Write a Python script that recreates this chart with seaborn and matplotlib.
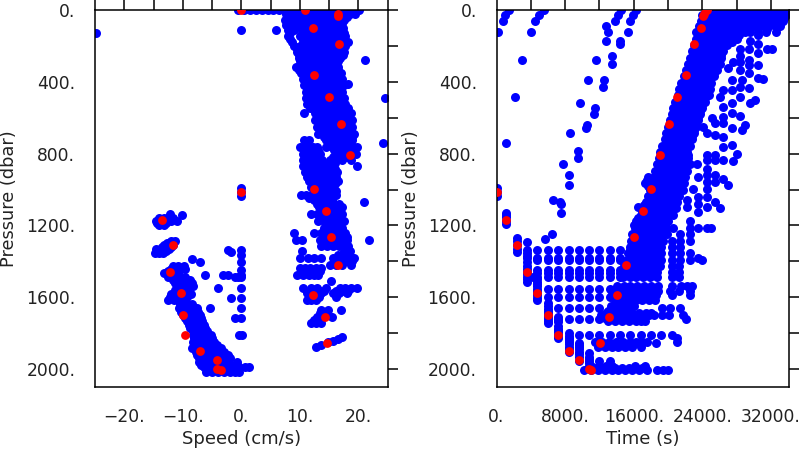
import pandas as pd
import matplotlib
matplotlib.use("Agg")
import matplotlib.pyplot as plt
import seaborn as sns

# ---------- DATA: LEFT PANEL (pressure level -> speeds) ----------
speed_rows = {
    0: [-0.5, 0.5, 1.5, 2.5, 3.5, 4.5, 5.5, 6.5, 7.5, 8.5, 9.5, 10.5, 11.5, 12.5, 13.5, 14.5, 15.5, 16.5, 17.5, 18.5, 19.5, 20.2],
    25: [7.7, 8.7, 9.7, 10.7, 11.7, 12.7, 13.7, 14.7, 15.7, 16.7, 17.7, 18.6, 19.4],
    55: [7.5, 8.5, 9.5, 10.5, 11.5, 12.5, 13.5, 14.5, 15.5, 16.5, 17.5],
    85: [7.7, 8.7, 9.7, 10.7, 11.7, 12.7, 13.7, 14.7, 15.7, 17.0],
    112: [5.9, 8.0, 9.0, 10.9, 11.8, 12.8, 13.8, 14.8, 15.8, 16.5],
    145: [8.0, 10.0, 11.0, 12.0, 13.0, 14.0, 15.0, 16.0, 17.0, 17.8],
    180: [8.7, 10.5, 11.4, 12.0, 13.3, 14.3, 15.7, 16.6, 17.4, 18.2],
    215: [9.5, 10.4, 11.3, 12.3, 13.3, 14.0, 15.3, 16.3, 17.3],
    250: [9.8, 10.7, 11.6, 12.6, 13.6, 14.6, 15.5, 16.5, 17.4],
    285: [10.0, 11.0, 12.0, 13.0, 14.0, 15.0, 16.0, 16.5],
    315: [9.3, 10.3, 11.3, 12.3, 13.3, 14.3, 15.3, 16.6],
    350: [10.2, 11.2, 12.2, 13.2, 14.2, 15.2, 16.2, 17.0],
    385: [10.5, 11.5, 12.5, 13.5, 14.5, 15.5, 16.5, 17.3],
    420: [10.8, 11.8, 12.8, 13.8, 14.8, 15.8, 16.8, 17.5],
    455: [11.0, 12.0, 13.0, 14.0, 15.0, 16.0, 17.3],
    490: [11.0, 11.9, 13.2, 14.2, 15.2, 16.2, 17.5],
    525: [11.3, 11.9, 13.0, 14.0, 15.0, 16.0, 17.0, 17.7],
    575: [10.8, 12.6, 13.4, 14.4, 15.4, 16.4, 17.4, 18.8],
    615: [12.6, 13.6, 14.6, 15.6, 16.6, 17.6, 18.4, 19.0],
    650: [13.0, 14.0, 15.0, 16.0, 17.0, 18.0, 19.0],
    690: [13.2, 14.2, 15.2, 16.2, 17.2, 18.2, 19.2],
    725: [10.8, 11.6, 14.5, 15.5, 16.5, 17.5, 18.9],
    765: [10.0, 10.8, 11.6, 12.3, 12.9, 14.5, 15.5, 16.5, 17.5, 18.5, 19.8],
    800: [10.6, 11.5, 12.5, 13.5, 16.5, 17.5, 18.5, 19.7],
    835: [10.6, 11.6, 12.6, 13.8, 15.2, 16.2, 17.2, 18.7],
    870: [10.6, 11.6, 12.6, 13.6, 14.6, 15.5, 19.8],
    905: [10.9, 11.9, 12.9, 13.9, 14.9, 15.9, 16.3],
    950: [11.6, 12.6, 13.6, 14.6, 15.6, 16.6],
    985: [11.9, 12.9, 13.9, 14.9, 15.5],
    1030: [10.2, 11.0, 12.0, 13.0, 14.0, 15.0, 16.2],
    1060: [12.4, 13.4, 14.4, 15.5],
    1070: [21.0],
    1100: [13.3, 14.3, 15.3, 16.3, 17.2],
    1135: [12.0, 13.0, 14.0, 15.0, 16.0, 17.2],
    1175: [13.2, 14.2, 15.2, 16.2, 17.5],
    1215: [14.2, 15.2, 16.2, 17.2],
    1243: [9.1, 12.5, 13.7, 14.7, 15.7, 16.7, 17.8],
    1280: [9.4, 10.3, 13.4, 14.4, 15.4, 16.4, 17.4, 18.1, 21.8],
    1317: [13.7, 14.7, 15.7, 16.7, 17.7, 18.2],
    1345: [10.3, 17.5, 18.6],
    1382: [10.0, 11.4, 12.5, 13.7, 15.7, 16.7, 17.7, 18.7, 19.2],
    1420: [15.2, 16.2, 17.2, 18.7],
    1438: [10.0, 10.9, 11.8, 12.7, 13.7],
    1475: [9.6, 10.6, 11.6, 12.4, 13.1],
    1507: [15.4],
    1550: [10.5, 12.0, 13.0, 14.5, 16.8, 17.8, 18.8, 19.8],
    1578: [11.2, 12.0, 13.0, 13.7, 15.7, 16.7, 18.0],
    1615: [11.3, 12.0, 12.8],
    1671: [13.7, 14.8, 17.0],
    1708: [13.0, 14.0, 15.5],
    1745: [11.9, 12.7, 13.6],
    1875: [12.8],
    1866: [13.7],
    1851: [14.8],
    1844: [15.7],
    1833: [16.5],
    1823: [17.3],
    # lower left arm
    1136: [-12.2],
    1143: [-10.1],
    1173: [-14.5, -13.7, -12.9, -12.0, -11.0],
    1197: [-14.0, -13.2],
    1285: [-12.0, -11.3],
    1310: [-13.2, -12.4, -11.6],
    1330: [-14.5, -13.7, -13.0, -12.3],
    1355: [-14.8, -14.0, -13.4],
    1388: [-8.5],
    1401: [-7.1, 0.0],
    1428: [-11.7, -10.8, -9.8],
    1443: [-12.0, -11.2, -10.4, -9.6],
    1465: [-13.2, -12.4, -11.6, -10.8],
    1478: [-6.2, -2.3, 0.0, -3.2],
    1505: [-11.7, -10.8, -9.8, -8.8],
    1535: [-11.0, -10.0, -9.0, -8.2],
    1580: [-12.0, -11.0, -10.0, -8.6],
    1615.5: [-12.5, -11.5, -10.5, -9.6],
    1660: [-10.6, -9.6, -8.6, -7.5, -5.3],
    1698: [-10.0, -9.0, -8.0, -7.0],
    1735: [-9.2, -8.4, -7.5, -6.7],
    1772: [-8.7, -7.8, -7.0, -6.2],
    1810: [-8.2, -7.2, -6.2, -5.2],
    1847: [-8.2, -7.2, -6.2, -5.4, -4.6],
    1885: [-8.4, -7.4, -6.4, -5.4, -4.4, -3.4],
    1922: [-7.6, -6.6, -5.6, -4.6, -3.6, -2.3],
    1960: [-7.3, -6.3, -5.3, -4.3, -3.3, -2.3, -0.8],
    1990: [-6.4, -5.4, -4.4, -3.4, -2.4, -1.4, -0.4, 0.6, 1.4],
    2015: [-6.0, -5.0, -4.0, -3.0, -2.0, -1.0, -0.3],
    # column near zero speed
    114: [0.0],
    128: [-24.8],
    278: [21.2],
    412: [18.2],
    492: [24.6],
    740: [24.3],
    990: [0.0],
    1013: [0.0],
    1035: [0.0],
    1336: [-2.3, 0.0],
    1349: [-1.7],
    1364: [0.0],
    1448: [0.0],
    1490: [-1.1, -0.5, 0.0],
    1550.5: [-4.0, 0.0],
    1606: [-1.7, 0.0],
    1661: [0.0],
    1717: [-1.1, 0.0],
    1812: [-0.3, 0.2],
}

# staggered points between the rows above, the blobs are solid in the picture
speed_fill = {
    12: [8.2, 9.2, 10.2, 11.2, 12.2, 13.2, 14.2, 15.2, 16.2, 17.2, 18.2],
    40: [8.2, 9.2, 10.2, 11.2, 12.2, 13.2, 14.2, 15.2, 16.2, 17.2, 18.0],
    70: [8.0, 9.0, 10.0, 11.0, 12.0, 13.0, 14.0, 15.0, 16.0, 17.2],
    100: [8.2, 10.2, 11.2, 12.2, 13.2, 14.2, 15.2, 16.2, 17.4],
    128: [8.3, 10.4, 11.4, 12.4, 13.4, 14.4, 15.4, 16.4, 17.6],
    162: [8.4, 10.5, 11.5, 12.5, 13.5, 14.5, 15.5, 16.5, 17.5],
    198: [9.1, 10.0, 11.0, 12.8, 13.8, 14.8, 15.8, 16.8, 17.7],
    232: [9.6, 10.6, 11.6, 12.6, 13.6, 14.6, 15.6, 16.6, 17.5],
    268: [9.9, 10.9, 11.9, 12.9, 13.9, 14.9, 15.9, 16.9],
    300: [10.5, 11.5, 12.5, 13.5, 14.5, 15.5, 16.2],
    332: [9.8, 10.8, 11.8, 12.8, 13.8, 14.8, 15.8, 16.6],
    368: [10.7, 11.7, 12.7, 13.7, 14.7, 15.7, 16.7],
    402: [11.0, 12.0, 13.0, 14.0, 15.0, 16.0, 17.0],
    438: [11.3, 12.3, 13.3, 14.3, 15.3, 16.3, 17.0],
    472: [11.5, 12.5, 13.5, 14.5, 15.5, 16.5],
    508: [11.6, 12.6, 13.6, 14.6, 15.6, 16.6, 17.3],
    548: [11.8, 12.8, 13.8, 14.8, 15.8, 16.8, 17.8, 18.3],
    595: [13.1, 14.1, 15.1, 16.1, 17.1, 18.1],
    632: [13.5, 14.5, 15.5, 16.5, 17.5, 18.5],
    670: [13.7, 14.7, 15.7, 16.7, 17.7, 18.7],
    708: [14.2, 15.2, 16.2, 17.2, 18.2, 19.0],
    745: [11.2, 14.8, 15.8, 16.8, 17.8, 18.8],
    782: [11.1, 12.1, 13.1, 15.9, 17.0, 18.0, 19.0],
    818: [11.1, 12.1, 13.1, 15.7, 16.7, 17.7, 18.2],
    852: [11.1, 12.1, 13.1, 14.2, 15.0, 16.0],
    888: [11.4, 12.4, 13.4, 14.4, 15.4, 16.0],
    928: [11.2, 12.2, 13.2, 14.2, 15.2, 16.2],
    968: [12.2, 13.2, 14.2, 15.2, 16.0],
    1008: [12.4, 13.4, 14.4, 15.2, 16.2],
    1045: [11.5, 12.5, 13.5, 14.5, 15.5],
    1082: [13.0, 13.9, 14.9, 15.9, 16.7],
    1118: [13.9, 14.9, 15.9, 16.9],
    1155: [13.5, 14.5, 15.5, 16.5],
    1195: [14.6, 15.6, 16.6],
    1230: [14.2, 15.2, 16.2, 17.2],
    1262: [14.0, 15.0, 16.0, 17.0, 18.0],
    1298: [14.2, 15.2, 16.2, 17.2, 18.0],
    1335: [17.9],
    1362: [16.5, 17.5, 18.5],
    1400: [16.0, 17.0, 18.0, 19.0],
    1455: [10.5, 11.5, 12.5, 13.4],
    1565: [11.5, 12.5, 13.5, 14.2, 16.2, 17.2, 18.2],
    1597: [11.6, 12.6, 13.3, 16.2],
    1690: [13.4, 14.4],
    1727: [12.4, 13.4],
    # lower left arm
    1160: [-14.0, -13.2, -12.5, -11.6],
    1185: [-14.4, -13.6, -12.8],
    1298: [-12.7, -12.0],
    1320: [-13.6, -12.8, -12.0],
    1343: [-14.4, -13.6, -12.9],
    1453: [-12.6, -11.6, -10.6],
    1485: [-12.5, -11.6, -10.4, -9.6],
    1520: [-11.3, -10.4, -9.4, -8.5],
    1558: [-11.3, -10.3, -9.3],
    1598: [-12.2, -11.2, -10.2, -9.2],
    1640: [-10.4, -9.4, -8.4],
    1680: [-10.3, -9.3, -8.3, -7.4],
    1716: [-9.6, -8.6, -7.6, -6.8],
    1753: [-9.0, -8.0, -7.0, -6.4],
    1790: [-8.2, -7.4, -6.6, -5.8],
    1828: [-8.0, -7.0, -6.0, -5.0],
    1866: [-8.0, -7.0, -6.0, -5.0, -4.2],
    1903: [-7.8, -6.8, -5.8, -4.8, -3.8, -2.9],
    1941: [-7.2, -6.2, -5.2, -4.2, -3.2, -2.0],
    1975: [-6.8, -5.8, -4.8, -3.8, -2.8, -1.8, -0.8],
    2003: [-5.5, -4.5, -3.5, -2.5, -1.5, -0.5],
}

# ---------- DATA: RIGHT PANEL (pressure level -> times) ----------
time_rows = {
    0: [24400, 25200, 26000, 26800, 27600, 28400, 29200, 30000, 30800, 31600, 32400, 33200, 33900, 1500, 5500, 14500, 16200],
    30: [24000, 24800, 25600, 26400, 27200, 28000, 28800, 29600, 30400, 31200, 32000, 32800, 33700, 1000, 5000, 14200, 15900],
    60: [23800, 24600, 25400, 26200, 27000, 27800, 28600, 29400, 30200, 31000, 31800, 32600, 33400, 700, 4500, 13800, 15500],
    90: [23600, 24400, 25200, 26000, 26800, 27600, 28400, 29200, 30000, 30800, 31600, 32400, 33000, 12800],
    120: [23300, 24100, 24900, 25700, 26500, 27300, 28100, 28900, 29500, 30500, 31400, 32600, 150, 4000, 13000, 15300],
    142: [30520],
    160: [23200, 24000, 24800, 25600, 26400, 27200, 28000],
    175: [29500, 12700, 14400],
    188: [30520, 14400],
    195: [23000, 23800, 24600, 25400, 26200, 26800],
    218: [28385, 31490, 32070, 29470],
    241: [30520],
    230: [22800, 23600, 24400, 25200, 26000, 26400],
    259: [28385, 13400],
    265: [22500, 23300, 24100, 24900, 25700, 26200],
    278: [29470, 11600, 3000],
    287: [28385, 27600],
    300: [22300, 23100, 23900, 24700, 25500, 26000, 13400],
    306: [29470, 30520],
    325: [27000],
    334: [28385],
    335: [22100, 22900, 23700, 24500, 25100, 25700],
    352: [29470],
    370: [21900, 22700, 23500, 24300, 24900, 25300],
    380: [30520],
    386: [31100],
    390: [27415, 28580, 10700, 12500],
    405: [21500, 22300, 23100, 23900, 24500, 25000],
    427: [28385, 12400],
    436: [29470],
    440: [21300, 22100, 22900, 23700, 24300, 24900],
    446: [26440, 27415],
    475: [21100, 21900, 22700, 23500, 24200, 24800],
    483: [26050],
    487: [28385, 2100],
    502: [30130],
    510: [20800, 21600, 22400, 23200, 23800, 24300],
    520: [27415, 29550, 9700],
    539: [26440],
    545: [20600, 21400, 22200, 23000, 23600, 24000, 11500],
    573: [27415],
    580: [20400, 21200, 22000, 22800, 23300, 23700, 11400],
    591: [28385],
    595: [26440],
    604: [25080],
    615: [20200, 21000, 21800, 22600, 23100, 23500],
    629: [25470],
    632: [26440],
    642: [28970, 10500],
    650: [20000, 20800, 21600, 22400, 22900, 23300, 24110],
    660: [27415, 10400],
    670: [28580],
    685: [19800, 20600, 21400, 22200, 22700, 23000, 24500, 8600],
    697: [25470],
    707: [26440],
    720: [19600, 20400, 21200, 22000, 22500, 22800],
    740: [1100],
    753: [27415],
    755: [19300, 20100, 20900, 21700, 22200, 22500],
    763: [26440],
    785: [9500],
    790: [19100, 19900, 20700, 21500, 21900, 22200],
    800: [28000],
    809: [24500, 25470],
    825: [18900, 19700, 20500, 21300, 21900, 22300, 9450],
    837: [24500, 25470, 26440],
    843: [27610],
    860: [18700, 19500, 20300, 21100, 21800, 22500, 23340, 7700],
    884: [24500],
    895: [18500, 19300, 20100, 20900, 21600, 22200],
    921: [25470, 24500, 8500],
    931: [23530],
    930: [18300, 17700, 19100, 19900, 20700, 21400, 22000],
    940: [26440],
    959: [24500, 25470],
    965: [18100, 17300, 18900, 19700, 20500, 21300, 21900],
    977: [27025, 8400],
    996: [22950, 24500],
    1000: [17900, 18700, 19500, 20300, 21000, 21700],
    990: [0],
    1013: [0],
    1035: [17700, 18500, 19300, 20100, 20700, 21300, 0],
    1043: [23530, 24500],
    1061: [22170, 6600],
    1070: [17400, 18200, 19000, 19800, 20400, 21000, 25470, 7400],
    1080: [23530, 7500],
    1098: [16540, 24500, 22170],
    1105: [17100, 17900, 18700, 19500, 20200, 20900, 26050],
    1126: [23530],
    1130: [7500, 1165],
    1140: [16800, 17600, 18400, 19200, 19900, 20600, 1165],
    1155: [1165],
    1175: [16200, 17000, 17800, 18600, 19300, 20000, 1165, 22560],
    1191: [1165],
    1215: [16100, 16900, 17700, 18500, 19200, 19800, 20600, 22560, 23530, 24500, 25000],
    1249: [6520],
    1250: [15800, 16600, 17400, 18200, 19000, 19900, 21400, 22560],
    1271: [2370],
    1278: [5630],
    1285: [15700, 16500, 17300, 18100, 18800, 19400, 20500, 21400, 22500, 2370],
    1310: [2370],
    1320: [15500, 16300, 17100, 17900, 18600, 19200, 20400, 21400],
    1330: [2370],
    1336: [3570, 4775, 5980, 7185, 8390, 9590, 10795, 12000, 13200, 14405],
    1350: [2370],
    1355: [15300, 16100, 16900, 17700, 18500, 19200, 20400, 21400, 22600, 3570],
    1382: [4775, 5980, 7185, 8390, 9590, 10795, 12000, 13200, 14405, 3570, 23530],
    1392: [4775, 5980, 7185, 8390, 9590, 10795, 12000, 13200, 14405, 15200, 16000, 16800, 17600, 18400, 19200, 20400, 21400, 22600, 24000],
    1425: [14900, 15700, 16500, 17300, 18200, 19000, 20400, 21300, 3570],
    1448: [4775, 5980, 7185, 8390, 9590, 10795, 12000, 13200, 14405],
    1460: [14600, 15400, 16200, 17000, 17800, 18700, 20400, 21300, 3570],
    1466: [4775, 5980, 7185, 8390, 9590, 10795, 12000, 13200, 14405],
    1485: [4775, 5980, 7185, 8390, 9590, 10795, 12000, 13200, 14405, 3570],
    1490: [14700, 15500, 16300, 17100, 17900, 18700, 20400, 21300, 4200],
    1513: [3570, 4775],
    1540: [14000, 14800, 15600, 16400, 17200, 18000, 18800, 20400, 21500, 22200, 22800, 4775],
    1554: [5980, 7185, 8390, 9590, 10795, 12000, 13200],
    1565: [13500, 14300, 15100, 15900, 16700, 17500, 18800, 20200, 21300, 22500, 4775],
    1590: [13500, 14300, 15100, 15900, 16700, 17500, 18600, 20400, 22500, 4775],
    1600: [5980, 7185, 8390, 9590, 10795, 12000, 13200],
    1615: [13800, 14600, 15400, 16200, 17000, 17800, 18500, 4775],
    1633: [5980],
    1650: [13300, 14000, 14800, 15500, 16000, 5980],
    1661: [7185, 8390, 9590, 10795, 12000, 19260, 20230, 21400],
    1675: [13000, 13800, 14600, 15400, 5980],
    1700: [12200, 13000, 13800, 14600, 15400, 16200, 17000, 17800, 18400, 19260, 20100, 5980, 21700],
    1708: [7185],
    1721: [5980, 7185, 8390, 9590, 10795, 12000, 22100],
    1735: [13000, 13800, 14600, 15400, 16200, 16800, 17300, 7185],
    1745: [5980],
    1760: [7185],
    1785: [7185],
    1801: [8390],
    1810: [7185, 9590, 10795, 12000, 13200, 14400, 15600, 16800, 18000, 19220, 20425],
    1829: [7185, 8390, 21000],
    1850: [11500, 12300, 13100, 13900, 14700, 15500, 16300, 17000, 17500, 21000, 8390],
    1857: [18600, 9590],
    1875: [11800, 12600, 13400, 14200, 15000, 15800, 16800, 8390, 9590],
    1903: [8390, 9590],
    1913: [10800],
    1935: [9590, 10800],
    1955: [9590, 10800, 12000, 13200],
    1985: [10800, 11000, 12000, 12800, 13400, 16100, 17300],
    2005: [10200, 11000, 11800, 12600, 13400, 14200, 15000, 15800, 16600, 17500, 18680, 19450, 20040],
}

time_fill = {
    15: [24700, 25500, 26300, 27100, 27900, 28700, 29500, 30300, 31100, 31900, 32700, 33500],
    45: [24200, 25000, 25800, 26600, 27400, 28200, 29000, 29800, 30600, 31400, 32200, 33000, 33500],
    75: [23900, 24700, 25500, 26300, 27100, 27900, 28700, 29500, 30300, 31100, 31900, 32700],
    105: [23700, 24500, 25300, 26100, 26900, 27700, 28500, 29300, 31500],
    140: [23500, 24300, 25100, 25900, 26700, 27500, 28300],
    178: [23400, 24200, 25000, 25800, 26600, 27400],
    212: [23100, 23900, 24700, 25500, 26300],
    248: [22900, 23700, 24500, 25300, 26100],
    282: [22700, 23500, 24300, 25100, 25800],
    318: [22500, 23300, 24100, 24900, 25500],
    352: [22300, 23100, 23900, 24700, 25300],
    388: [22000, 22800, 23600, 24400, 24800],
    422: [21700, 22500, 23300, 24100, 24700],
    458: [21500, 22300, 23100, 23900, 24500],
    492: [21300, 22100, 22900, 23700, 24300],
    528: [21000, 21800, 22600, 23400, 23900],
    562: [20800, 21600, 22400, 23200, 23700],
    598: [20600, 21400, 22200, 23000, 23500],
    632: [20400, 21200, 22000, 22800, 23300],
    668: [20200, 21000, 21800, 22600, 23000],
    702: [20000, 20800, 21600, 22400, 22800],
    738: [19800, 20600, 21400, 22200],
    772: [19500, 20300, 21100, 21900],
    808: [19300, 20100, 20900, 21700, 22300],
    842: [19100, 19900, 20700, 21500, 22100],
    878: [18900, 19700, 20500, 21300, 22000],
    912: [18700, 19500, 20300, 21100, 21800],
    948: [17500, 18500, 19300, 20100, 20900, 21600],
    982: [17700, 18300, 19100, 19900, 20700, 21400],
    1018: [18100, 18900, 19700, 20500, 21200],
    1052: [17800, 18600, 19400, 20200, 20900],
    1088: [17200, 18000, 18800, 19600, 20400],
    1122: [16900, 17400, 18200, 19000, 19800, 20500],
    1158: [16500, 17300, 18100, 18900, 19700],
    1195: [16000, 16500, 17300, 18100, 18900, 19600],
    1232: [16200, 17000, 17800, 18600, 19400],
    1268: [16000, 16800, 17600, 18400, 19200],
    1302: [15900, 16700, 17500, 18300, 19000],
    1338: [15600, 16400, 17200, 18000, 18800],
    1375: [15600, 16400, 17200, 18000, 18800],
    1408: [15300, 16100, 16900, 17700, 18500],
    1442: [15000, 15800, 16600, 17400, 18300],
    1475: [15000, 15800, 16600, 17400, 18200],
    1552: [14400, 15200, 16000, 16800, 17600, 18400],
    1578: [13900, 14700, 15500, 16300, 17100, 17900],
    1603: [14100, 14900, 15700, 16500, 17300, 18100],
    1662: [13600, 14400, 15200],
    1688: [12700, 13400, 14200, 15000, 15800, 16600, 17400, 18000],
    1718: [12600, 13400, 14200, 15000, 15800, 16600, 17200],
    1862: [12000, 12800, 13600, 14400, 15200, 16000, 16800],
    1995: [11400, 12200, 13000, 13800, 14600, 15400, 16200, 17000],
    # staircase columns on the left
    1292: [3570],
    1368: [3570],
    1405: [3570],
    1442.5: [3570],
    1473: [3570],
    1500: [3570, 4775],
    1527: [4775],
    1552.5: [4775],
    1578.5: [4775],
    1603.5: [4775],
    1664: [5980],
    1690.5: [5980],
    1712: [5980],
    1734: [5980],
    1730: [7185],
    1775: [7185],
    1795: [7185],
    1818: [7185, 8390],
    1840: [8390],
    1862.5: [8390],
    1888: [8390],
    1868: [9590],
    1890: [9590],
    1916: [9590],
    1945: [10800],
    1968: [10800],
}

# ---------- DATA: RED POINTS ----------
red_pressure = [0, 0, 20, 35, 100, 190, 360, 485, 636, 807, 996, 1013, 1120, 1172, 1264, 1308, 1418, 1457, 1578, 1585, 1699, 1710, 1812, 1853, 1898, 1948, 1998, 2007]
red_speed = [0.0, 10.9, 16.6, 16.6, 12.25, 16.7, 12.5, 15.0, 17.0, 18.6, 12.5, 0.0, 14.5, -13.5, 15.4, -11.7, 16.6, -12.2, -10.3, 12.25, -10.0, 14.4, -9.6, 14.7, -7.1, -4.2, -4.2, -3.5]
red_time = [24400, 24500, 24200, 24100, 23800, 23060, 22050, 21050, 20075, 19065, 18055, 0, 17085, 1165, 16075, 2370, 15065, 3570, 4775, 14095, 5980, 13085, 7185, 12075, 8390, 9590, 10835, 11065]

# ---------- LABELS ----------
pressure_ticks = [0, 200, 400, 600, 800, 1000, 1200, 1400, 1600, 1800, 2000]
pressure_labels = ["0.", "", "400.", "", "800.", "", "1200.", "", "1600.", "", "2000."]
speed_ticks = [-25, -20, -15, -10, -5, 0, 5, 10, 15, 20, 25]
speed_labels = ["", "\u221220.", "", "\u221210.", "", "0.", "", "10.", "", "20.", ""]
time_ticks = [0, 4000, 8000, 12000, 16000, 20000, 24000, 28000, 32000]
time_labels = ["0.", "", "8000.", "", "16000.", "", "24000.", "", "32000."]

TEXT_COLOR = "#222222"


def rows_to_frame(col, *row_sets):
    out = [(p, v) for rows in row_sets for p, vals in rows.items() for v in vals]
    return pd.DataFrame(out, columns=["pressure", col])


def draw_panel(ax, blue, col, red_x, xticks, xlabels, xlim, xlabel):
    sns.scatterplot(data=blue, x=col, y="pressure", color="#0000ff", s=42, linewidth=0, ax=ax)
    red = pd.DataFrame({col: red_x, "pressure": red_pressure})
    sns.scatterplot(data=red, x=col, y="pressure", color="#ff0000", s=40, linewidth=0, ax=ax, zorder=5)
    ax.set_xlim(*xlim)
    ax.set_ylim(2100, 0)
    ax.set_xticks(xticks)
    ax.set_xticklabels(xlabels)
    ax.set_yticks(pressure_ticks)
    ax.set_yticklabels(pressure_labels)
    ax.tick_params(axis="both", which="major", direction="out", length=7.2, width=1.1, color="black",
                   top=True, right=True, labelsize=12.3, labelcolor=TEXT_COLOR)
    ax.tick_params(axis="x", pad=8)
    ax.tick_params(axis="y", pad=7)
    ax.set_xlabel(xlabel, fontsize=13, color=TEXT_COLOR, labelpad=3)
    ax.set_ylabel("Pressure (dbar)", fontsize=12.8, color=TEXT_COLOR)
    ax.yaxis.set_label_coords(-0.263, 0.5)
    for spine in ax.spines.values():
        spine.set_visible(True)
        spine.set_linewidth(1.1)
        spine.set_color("black")


sns.set_style("white")
plt.rcParams["font.family"] = ["DejaVu Sans"]

fig = plt.figure(figsize=(8, 4.5), dpi=100)
ax1 = fig.add_axes([95 / 800, 63 / 450, 292.5 / 800, 377 / 450])
ax2 = fig.add_axes([496.5 / 800, 63 / 450, 292.5 / 800, 377 / 450])

draw_panel(ax1, rows_to_frame("speed", speed_rows, speed_fill), "speed", red_speed,
           speed_ticks, speed_labels, (-25, 25), "Speed (cm/s)")
draw_panel(ax2, rows_to_frame("time", time_rows, time_fill), "time", red_time,
           time_ticks, time_labels, (0, 34080), "Time (s)")

fig.savefig("out.png", dpi=100)
plt.close(fig)
